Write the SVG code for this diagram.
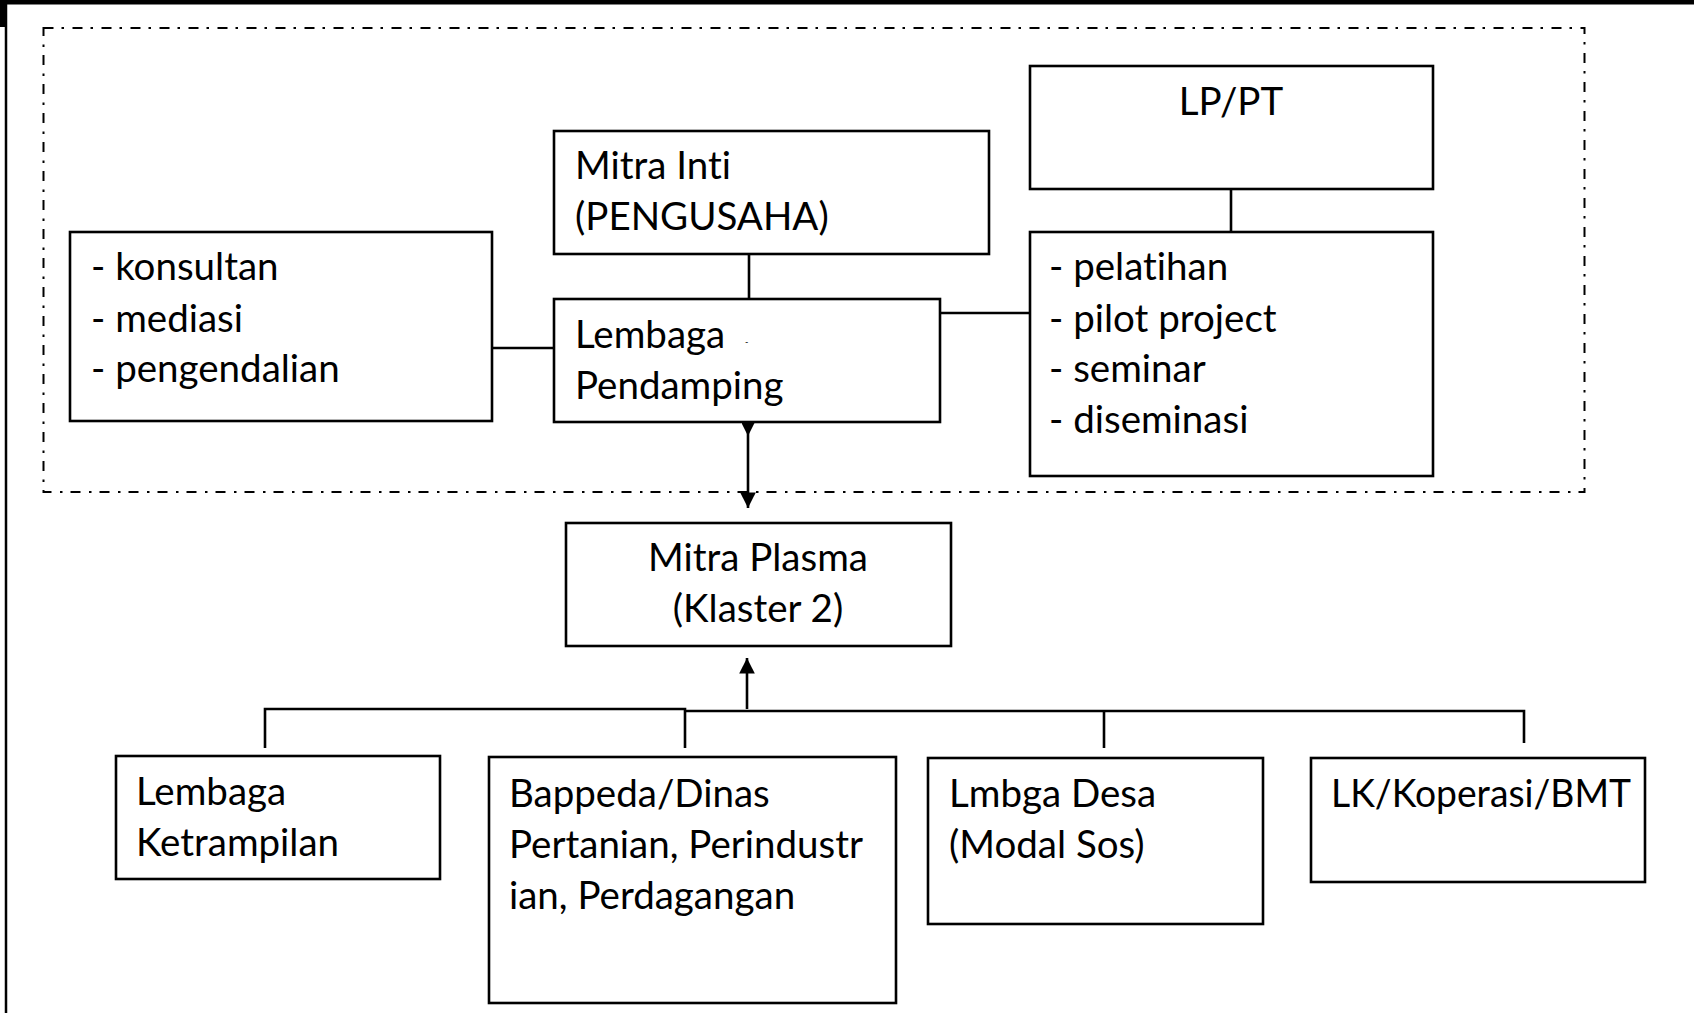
<svg xmlns="http://www.w3.org/2000/svg" width="1694" height="1013" viewBox="0 0 1694 1013">
<style>
.box{fill:#fff;stroke:#000;stroke-width:2.6}
.ln{fill:none;stroke:#000;stroke-width:2.6}
.t{font-family:Lato,"Open Sans","Liberation Sans",sans-serif;font-size:38.5px;fill:#000;font-variant-ligatures:none;font-feature-settings:"liga" 0,"clig" 0}
.c{text-anchor:middle}
.frame{fill:none;stroke:#000;stroke-width:2;stroke-dasharray:10 8 2.5 8.5}
</style>
<defs>
<marker id="ah" viewBox="0 0 10 10" refX="10" refY="5" markerWidth="6" markerHeight="6" orient="auto" markerUnits="strokeWidth">
<path d="M0,0 L10,5 L0,10 z" fill="#000"/>
</marker>
<marker id="as" viewBox="0 0 10 10" refX="0" refY="5" markerWidth="5" markerHeight="5" orient="auto" markerUnits="strokeWidth">
<path d="M0,0 L10,5 L0,10 z" fill="#000"/>
</marker>
</defs>
<rect x="0" y="0" width="1694" height="1013" fill="#fff"/>
<rect x="0" y="0" width="1694" height="4.5" fill="#000"/>
<rect x="0" y="0" width="7" height="27" fill="#000"/>
<line x1="6" y1="0" x2="6" y2="1013" stroke="#000" stroke-width="2.5"/>
<rect class="frame" x="43.5" y="28" width="1541" height="464"/>

<g id="connectors">
<line class="ln" x1="1231" y1="189" x2="1231" y2="232"/>
<line class="ln" x1="749" y1="254" x2="749" y2="299"/>
<line class="ln" x1="492" y1="348" x2="554" y2="348"/>
<line class="ln" x1="940" y1="313" x2="1030" y2="313"/>
<line class="ln" x1="748" y1="423" x2="748" y2="508" marker-start="url(#as)" marker-end="url(#ah)"/>
<line class="ln" x1="747" y1="709" x2="747" y2="658" marker-end="url(#ah)"/>
<polyline class="ln" points="265,748 265,709 685,709 685,748"/>
<polyline class="ln" points="685,711 1524,711 1524,743"/>
<line class="ln" x1="1104" y1="711" x2="1104" y2="748"/>
</g>

<g id="lppt">
<rect class="box" x="1030" y="66" width="403" height="123"/>
<text class="t c" x="1231" y="115">LP/PT</text>
</g>
<g id="kegiatan">
<rect class="box" x="1030" y="232" width="403" height="244"/>
<text class="t" x="1049" y="280">- pelatihan</text>
<text class="t" x="1049" y="332">- pilot project</text>
<text class="t" x="1049" y="382">- seminar</text>
<text class="t" x="1049" y="433">- diseminasi</text>
</g>
<g id="mitra-inti">
<rect class="box" x="554" y="131" width="435" height="123"/>
<text class="t" x="575" y="179">Mitra Inti</text>
<text class="t" x="575" y="230">(PENGUSAHA)</text>
</g>
<g id="fungsi">
<rect class="box" x="70" y="232" width="422" height="189"/>
<text class="t" x="91" y="280">- konsultan</text>
<text class="t" x="91" y="332">- mediasi</text>
<text class="t" x="91" y="382">- pengendalian</text>
</g>
<g id="lembaga-pendamping">
<rect class="box" x="554" y="299" width="386" height="123"/>
<text class="t" x="575" y="348">Lembaga</text>
<text class="t" x="575" y="399">Pendamping</text>
<text class="t" x="745" y="345" style="font-size:9px">-</text>
</g>
<g id="mitra-plasma">
<rect class="box" x="566" y="523" width="385" height="123"/>
<text class="t c" x="758" y="571">Mitra Plasma</text>
<text class="t c" x="758" y="622">(Klaster 2)</text>
</g>
<g id="lembaga-ketrampilan">
<rect class="box" x="116" y="756" width="324" height="123"/>
<text class="t" x="136" y="805">Lembaga</text>
<text class="t" x="136" y="856">Ketrampilan</text>
</g>
<g id="bappeda">
<rect class="box" x="489" y="757" width="407" height="246"/>
<text class="t" x="509" y="807">Bappeda/Dinas</text>
<text class="t" x="509" y="858">Pertanian, Perindustr</text>
<text class="t" x="509" y="909">ian, Perdagangan</text>
</g>
<g id="lembaga-desa">
<rect class="box" x="928" y="758" width="335" height="166"/>
<text class="t" x="949" y="807">Lmbga Desa</text>
<text class="t" x="949" y="858">(Modal Sos)</text>
</g>
<g id="lk-koperasi">
<rect class="box" x="1311" y="758" width="334" height="124"/>
<text class="t" x="1331" y="807" textLength="300" lengthAdjust="spacingAndGlyphs">LK/Koperasi/BMT</text>
</g>
</svg>
